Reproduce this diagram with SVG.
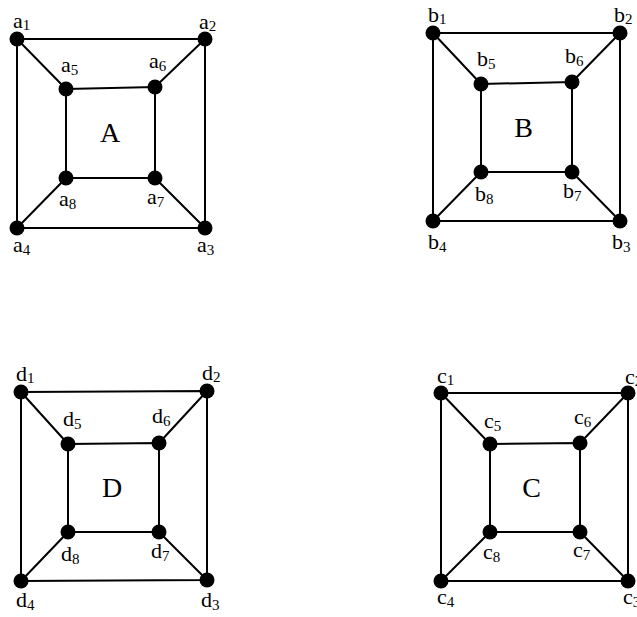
<svg xmlns="http://www.w3.org/2000/svg" width="637" height="617" viewBox="0 0 637 617">
<style>
.e{stroke:#000;stroke-width:2;fill:none}
.n circle{fill:#000}
.n text,.t{font-family:"Liberation Serif","Times New Roman",serif;fill:#000}
.n text{font-size:22px}
.n tspan{font-size:15px}
.t{font-size:28px;text-anchor:middle}
</style>
<rect width="637" height="617" fill="#fff"/>
<g id="connectors" class="e">
<!-- A -->
<path d="M17,39 L205,39 L205,228 L17,228 Z"/>
<path d="M66,89 L155,87 L155,178 L66,178 Z"/>
<path d="M17,39 L66,89 M205,39 L155,87 M205,228 L155,178 M17,228 L66,178"/>
<!-- B -->
<path d="M433,33 L620,33 L620,221 L433,221 Z"/>
<path d="M481,84 L572,82 L572,172 L481,172 Z"/>
<path d="M433,33 L481,84 M620,33 L572,82 M620,221 L572,172 M433,221 L481,172"/>
<!-- D -->
<path d="M21,392 L207,391 L207,580 L21,581 Z"/>
<path d="M68,444 L159,443 L159,532 L68,532 Z"/>
<path d="M21,392 L68,444 M207,391 L159,443 M207,580 L159,532 M21,581 L68,532"/>
<!-- C -->
<path d="M441,393 L628,393 L628,581 L441,581 Z"/>
<path d="M490,444 L580,443 L580,532 L490,532 Z"/>
<path d="M441,393 L490,444 M628,393 L580,443 M628,581 L580,532 M441,581 L490,532"/>
</g>
<g id="graphA">
<g id="a1" class="n"><circle cx="17" cy="39" r="7.5"/><text x="13" y="28">a<tspan dy="2">1</tspan></text></g>
<g id="a2" class="n"><circle cx="205" cy="39" r="7.5"/><text x="199" y="29">a<tspan dy="2">2</tspan></text></g>
<g id="a3" class="n"><circle cx="205" cy="228" r="7.5"/><text x="197" y="252">a<tspan dy="3">3</tspan></text></g>
<g id="a4" class="n"><circle cx="17" cy="228" r="7.5"/><text x="13" y="252">a<tspan dy="3">4</tspan></text></g>
<g id="a5" class="n"><circle cx="66" cy="89" r="7.5"/><text x="61" y="72">a<tspan dy="3">5</tspan></text></g>
<g id="a6" class="n"><circle cx="155" cy="87" r="7.5"/><text x="149" y="68">a<tspan dy="3">6</tspan></text></g>
<g id="a7" class="n"><circle cx="155" cy="178" r="7.5"/><text x="147" y="204">a<tspan dy="3">7</tspan></text></g>
<g id="a8" class="n"><circle cx="66" cy="178" r="7.5"/><text x="59" y="206">a<tspan dy="3">8</tspan></text></g>
<text class="t" x="110" y="142">A</text>
</g>
<g id="graphB">
<g id="b1" class="n"><circle cx="433" cy="33" r="7.5"/><text x="428" y="22">b<tspan dy="2">1</tspan></text></g>
<g id="b2" class="n"><circle cx="620" cy="33" r="7.5"/><text x="614" y="22">b<tspan dy="2">2</tspan></text></g>
<g id="b3" class="n"><circle cx="620" cy="221" r="7.5"/><text x="612" y="249">b<tspan dy="3">3</tspan></text></g>
<g id="b4" class="n"><circle cx="433" cy="221" r="7.5"/><text x="428" y="249">b<tspan dy="3">4</tspan></text></g>
<g id="b5" class="n"><circle cx="481" cy="84" r="7.5"/><text x="477" y="66">b<tspan dy="3">5</tspan></text></g>
<g id="b6" class="n"><circle cx="572" cy="82" r="7.5"/><text x="565" y="63">b<tspan dy="3">6</tspan></text></g>
<g id="b7" class="n"><circle cx="572" cy="172" r="7.5"/><text x="563" y="198">b<tspan dy="3">7</tspan></text></g>
<g id="b8" class="n"><circle cx="481" cy="172" r="7.5"/><text x="475" y="201">b<tspan dy="3">8</tspan></text></g>
<text class="t" x="523.5" y="137">B</text>
</g>
<g id="graphD">
<g id="d1" class="n"><circle cx="21" cy="392" r="7.5"/><text x="16" y="381">d<tspan dy="2">1</tspan></text></g>
<g id="d2" class="n"><circle cx="207" cy="391" r="7.5"/><text x="202" y="380">d<tspan dy="2">2</tspan></text></g>
<g id="d3" class="n"><circle cx="207" cy="580" r="7.5"/><text x="201" y="607">d<tspan dy="3">3</tspan></text></g>
<g id="d4" class="n"><circle cx="21" cy="581" r="7.5"/><text x="16" y="607">d<tspan dy="3">4</tspan></text></g>
<g id="d5" class="n"><circle cx="68" cy="444" r="7.5"/><text x="63" y="426">d<tspan dy="3">5</tspan></text></g>
<g id="d6" class="n"><circle cx="159" cy="443" r="7.5"/><text x="152" y="423">d<tspan dy="3">6</tspan></text></g>
<g id="d7" class="n"><circle cx="159" cy="532" r="7.5"/><text x="151" y="558">d<tspan dy="3">7</tspan></text></g>
<g id="d8" class="n"><circle cx="68" cy="532" r="7.5"/><text x="61" y="561">d<tspan dy="3">8</tspan></text></g>
<text class="t" x="112" y="497">D</text>
</g>
<g id="graphC">
<g id="c1" class="n"><circle cx="441" cy="393" r="7.5"/><text x="437" y="383">c<tspan dy="2">1</tspan></text></g>
<g id="c2" class="n"><circle cx="628" cy="393" r="7.5"/><text x="625" y="384">c<tspan dy="2">2</tspan></text></g>
<g id="c3" class="n"><circle cx="628" cy="581" r="7.5"/><text x="623" y="604">c<tspan dy="3">3</tspan></text></g>
<g id="c4" class="n"><circle cx="441" cy="581" r="7.5"/><text x="437" y="604">c<tspan dy="3">4</tspan></text></g>
<g id="c5" class="n"><circle cx="490" cy="444" r="7.5"/><text x="484" y="428">c<tspan dy="3">5</tspan></text></g>
<g id="c6" class="n"><circle cx="580" cy="443" r="7.5"/><text x="574" y="424">c<tspan dy="3">6</tspan></text></g>
<g id="c7" class="n"><circle cx="580" cy="532" r="7.5"/><text x="573" y="557">c<tspan dy="3">7</tspan></text></g>
<g id="c8" class="n"><circle cx="490" cy="532" r="7.5"/><text x="483" y="559">c<tspan dy="3">8</tspan></text></g>
<text class="t" x="531.5" y="497">C</text>
</g>
</svg>
